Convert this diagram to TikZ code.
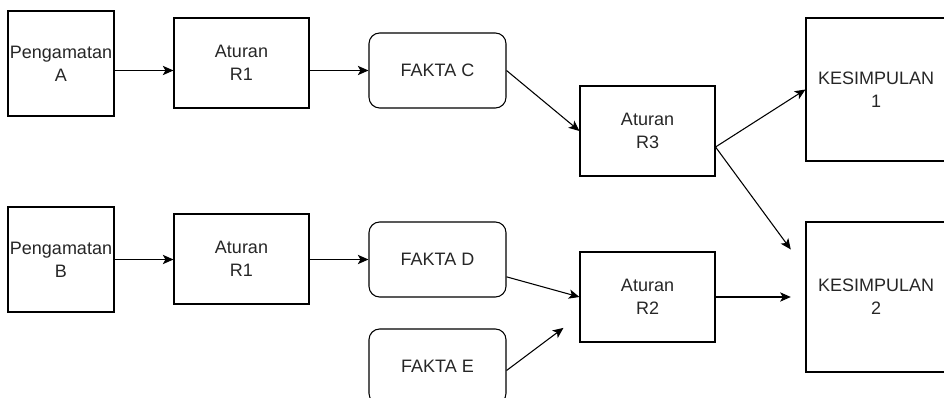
\documentclass[tikz,border=0pt]{standalone}
\usepackage{fontspec}
\setmainfont{Liberation Sans}
\usetikzlibrary{arrows.meta}
\begin{document}
\begin{tikzpicture}[x=0.75pt,y=-0.75pt,line width=0.8pt,
  every node/.style={font=\fontsize{13.5}{17}\selectfont,text=black!85,align=center,inner sep=0pt},
  kotak/.style={draw,minimum width=101.25pt,minimum height=67.5pt},
  fakta/.style={draw,rounded corners=8pt,minimum width=102.75pt,minimum height=56.25pt},
  panah/.style={-{Stealth[length=8pt,width=7pt,inset=2pt]}}]
\useasboundingbox (0,0) rectangle (944,398);
% baris atas dan bawah
\foreach \n/\y/\h in {A/63.5/78.75,B/259.5/78.75} {
  \node[draw,minimum width=79.5pt,minimum height=\h pt] (p\n) at (61,\y) {Pengamatan\\\n};
}
\node[kotak] (rA) at (241.5,63) {Aturan\\R1};
\node[kotak] (rB) at (241.5,259) {Aturan\\R1};
\node[fakta] (fC) at (437.5,70.5) {FAKTA C};
\node[fakta] (fD) at (437.5,259.5) {FAKTA D};
\node[fakta] (fE) at (437.5,366.5) {FAKTA E};
\node[kotak] (r3) at (647.5,131) {Aturan\\R3};
\node[kotak] (r2) at (647.5,297) {Aturan\\R2};
\node[draw,minimum width=105pt,minimum height=107.25pt,text width=103pt] (k1) at (876,89.5) {KESIMPULAN\\1};
\node[draw,minimum width=105pt,minimum height=112.5pt,text width=103pt] (k2) at (876,297) {KESIMPULAN\\2};
% titik ujung panah
\coordinate (r3o) at ([yshift=-12pt]r3.east);
\coordinate (k2i) at ([xshift=-11pt,yshift=-21pt]k2.north west);
\coordinate (fDo) at ([yshift=-13pt]fD.east);
\coordinate (r2i) at ([xshift=-12pt,yshift=11pt]r2.south west);
% panah
\draw[panah] (pA.east |- fC) -- (rA.west |- fC);
\draw[panah] (rA.east |- fC) -- (fC.west);
\draw[panah] (pB.east |- fD) -- (rB.west |- fD);
\draw[panah] (rB.east |- fD) -- (fD.west);
\draw[panah] (fC.east) -- (r3.west);
\draw[panah] (r3o) -- (k1.west);
\draw[panah] (r3o) -- (k2i);
\draw[panah] (fDo) -- (r2.west);
\draw[panah] ([yshift=-3pt]fE.east) -- (r2i);
\draw[panah] (r2.east) -- ([xshift=-11pt]k2.west);
\end{tikzpicture}
\end{document}
